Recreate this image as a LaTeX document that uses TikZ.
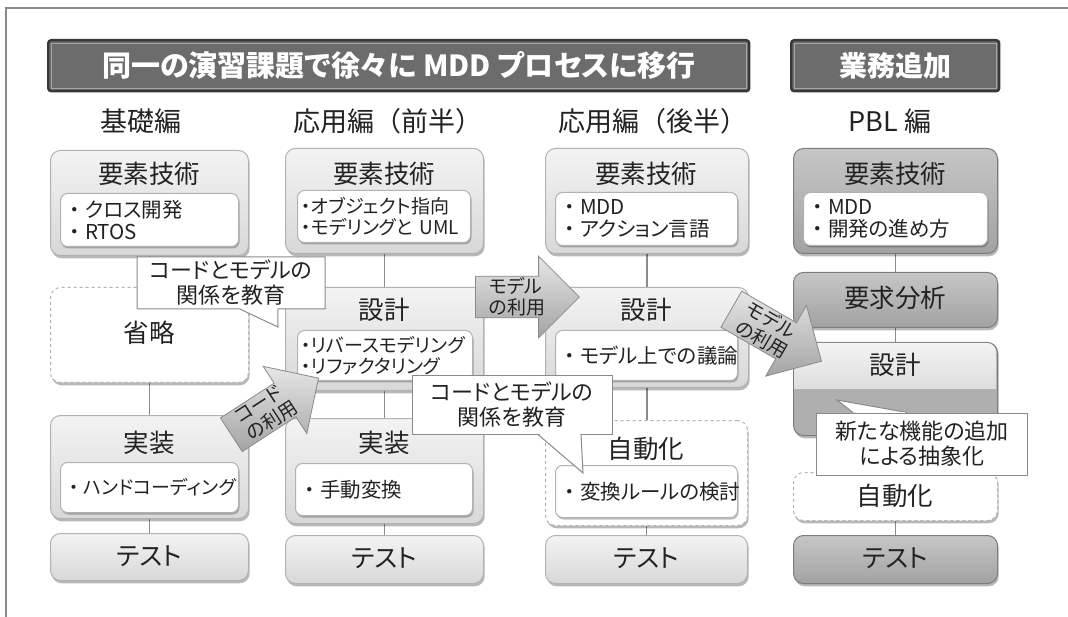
\documentclass[tikz,border=0pt]{standalone}
\usepackage{fontspec}
\setmainfont{Noto Sans CJK JP}[RawFeature=+palt]
\newfontfamily\plainjp{Noto Sans CJK JP}
\newcommand\bul{{\plainjp ・}}
\usetikzlibrary{shadows,shapes.arrows,shapes.callouts,backgrounds}
\definecolor{frm}{HTML}{8A8A8A}
\definecolor{lt}{HTML}{F3F3F3}
\definecolor{lb}{HTML}{D8D8D8}
\definecolor{ledge}{HTML}{B2B2B2}
\definecolor{dt}{HTML}{C6C6C6}
\definecolor{db}{HTML}{A2A2A2}
\definecolor{dedge}{HTML}{7C7C7C}
\definecolor{dfill}{HTML}{AFAFAF}
\definecolor{bnfill}{HTML}{6C6C6C}
\definecolor{bnedge}{HTML}{383838}
\definecolor{bninner}{HTML}{A6A6A6}
\definecolor{conn}{HTML}{8C8C8C}
\definecolor{txt}{HTML}{222222}
\definecolor{arT}{HTML}{E6E6E6}
\definecolor{arB}{HTML}{A4A4A4}
\tikzset{
  shd/.style={drop shadow={shadow xshift=1.2pt, shadow yshift=-2.8pt, opacity=0.28, fill=black}},
  lbox/.style={anchor=north west, draw=ledge, line width=1pt, rounded corners=10pt, top color=lt, bottom color=lb, inner sep=0pt, shd},
  kbox/.style={anchor=north west, draw=dedge, line width=1pt, rounded corners=10pt, top color=dt, bottom color=db, inner sep=0pt, shd},
  kflat/.style={anchor=north west, draw=dedge, line width=1pt, rounded corners=10pt, fill=dfill, inner sep=0pt, shd},
  dbox/.style={anchor=north west, draw=ledge, dashed, line width=1pt, rounded corners=10pt, fill=white, inner sep=0pt, shd},
  ibox/.style={anchor=north west, draw=ledge, line width=1pt, rounded corners=7pt, fill=white, inner xsep=4pt, inner ysep=0pt, align=left, text=txt, font=\fontsize{20.5}{22}\selectfont, drop shadow={shadow xshift=1pt, shadow yshift=-2pt, opacity=0.25, fill=black}},
  ttl/.style={text=txt, inner sep=0pt, font=\fontsize{25.5}{28}\selectfont},
  hdr/.style={text=txt, inner sep=0pt, font=\fontsize{27}{29}\selectfont},
  banner/.style={anchor=north west, draw=bnedge, line width=2.4pt, fill=bnfill, rounded corners=3pt, text=white, font=\bfseries\fontsize{29}{31}\selectfont, inner sep=0pt},
  conline/.style={draw=conn, line width=1.2pt},
  barrow/.style={single arrow, single arrow head extend=20pt, minimum height=104pt, draw=frm, line width=0.8pt, top color=arT, bottom color=arB, inner xsep=2pt, inner ysep=1pt, align=left, text=txt, font=\fontsize{19}{21}\selectfont},
  cout/.style={rectangle callout, draw=frm, line width=1pt, fill=white, align=center, inner sep=0pt, text=txt, font=\fontsize{22}{25}\selectfont, callout pointer width=38pt},
  cbox/.style={rectangle, draw=frm, line width=1pt, fill=white, align=center, inner sep=0pt, text=txt, font=\fontsize{22}{25}\selectfont},
  cptr/.style={draw=frm, fill=white, line width=1pt, line join=miter}
}
\begin{document}
\begin{tikzpicture}[x=1pt,y=-1pt]
\useasboundingbox (0,0) rectangle (1068,617);
\draw[frm, line width=1.4pt] (1068,8) -- (6,8) -- (6,617);

% banners
\node[banner, minimum width=701pt, minimum height=51pt] (ban1) at (47,39) {同一の演習課題で徐々に MDD プロセスに移行};
\draw[bninner, line width=0.8pt] ([shift={(4,-4)}]ban1.south west) rectangle ([shift={(-4,4)}]ban1.north east);
\node[banner, minimum width=208pt, minimum height=51pt, font=\bfseries\fontsize{28}{30}\selectfont] (ban2) at (790,39) {業務追加};
\draw[bninner, line width=0.8pt] ([shift={(4,-4)}]ban2.south west) rectangle ([shift={(-4,4)}]ban2.north east);

% headers
\node[hdr] (h1) at (141,121) {基礎編};
\node[hdr] (h2) at (388,121) {応用編{\plainjp （}前半{\plainjp ）}};
\node[hdr] (h3) at (653,121) {応用編{\plainjp （}後半{\plainjp ）}};
\node[hdr] (h4) at (890,121) {PBL 編};

% column 1
\node[lbox, minimum width=198pt, minimum height=105pt] (a1) at (50,150) {};
\node[ttl] (a1t) at (149,174) {要素技術};
\node[ibox, minimum width=178pt, minimum height=53pt, text width=170pt] (a1i) at (60,193) {\bul クロス開発\\\bul RTOS};
\node[dbox, minimum width=198pt, minimum height=95pt] (a2) at (50,287) {};
\node[ttl] (a2t) at (149,333) {省略};
\node[lbox, minimum width=198pt, minimum height=103pt] (a3) at (50,415) {};
\node[ttl] (a3t) at (149,443) {実装};
\node[ibox, minimum width=178pt, minimum height=50pt, text width=170pt, font=\fontsize{19}{21}\selectfont] (a3i) at (60,462) {\bul ハンドコーディング};
\node[lbox, minimum width=198pt, minimum height=47pt] (a4) at (50,533) {};
\node[ttl] (a4t) at (149,556) {テスト};

% column 2
\node[lbox, minimum width=198pt, minimum height=105pt] (b1) at (285,148) {};
\node[ttl] (b1t) at (384,174) {要素技術};
\node[ibox, minimum width=173pt, minimum height=52pt, text width=165pt, font=\fontsize{19}{21}\selectfont] (b1i) at (297,190) {・オブジェクト指向\\・モデリングと~UML};
\node[lbox, minimum width=198pt, minimum height=103pt] (b2) at (285,287) {};
\node[ttl] (b2t) at (384,310) {設計};
\node[ibox, minimum width=175pt, minimum height=50pt, text width=167pt, font=\fontsize{19}{21}\selectfont] (b2i) at (297,330) {・リバースモデリング\\・リファクタリング};
\node[lbox, minimum width=198pt, minimum height=105pt] (b3) at (285,418) {};
\node[ttl] (b3t) at (384,443) {実装};
\node[ibox, minimum width=177pt, minimum height=52pt, text width=169pt] (b3i) at (295,463) {\bul 手動変換};
\node[lbox, minimum width=198pt, minimum height=48pt] (b4) at (285,535) {};
\node[ttl] (b4t) at (384,558) {テスト};

% column 3
\node[lbox, minimum width=203pt, minimum height=105pt] (c1) at (545,148) {};
\node[ttl] (c1t) at (646,174) {要素技術};
\node[ibox, minimum width=182pt, minimum height=53pt, text width=174pt] (c1i) at (555,192) {\bul MDD\\\bul アクション言語};
\node[lbox, minimum width=203pt, minimum height=100pt] (c2) at (545,287) {};
\node[ttl] (c2t) at (646,310) {設計};
\node[ibox, minimum width=182pt, minimum height=50pt, text width=174pt] (c2i) at (555,330) {\bul モデル上での議論};
\node[dbox, minimum width=202pt, minimum height=105pt] (c3) at (545,420) {};
\node[ttl] (c3t) at (646,449) {自動化};
\node[ibox, minimum width=182pt, minimum height=52pt, text width=174pt] (c3i) at (555,465) {\bul 変換ルールの検討};
\node[lbox, minimum width=202pt, minimum height=48pt] (c4) at (545,535) {};
\node[ttl] (c4t) at (646,558) {テスト};

% column 4
\node[kbox, minimum width=204pt, minimum height=105pt] (d1) at (793,148) {};
\node[ttl] (d1t) at (895,174) {要素技術};
\node[ibox, minimum width=184pt, minimum height=53pt, text width=176pt] (d1i) at (803,192) {\bul MDD\\\bul 開発の進め方};
\node[kbox, minimum width=204pt, minimum height=55pt] (d2) at (793,272) {};
\node[ttl] (d2t) at (895,298) {要求分析};
\node[kflat, minimum width=204pt, minimum height=93pt] (d3) at (793,342) {};
\shade[top color=lt, bottom color=lb, rounded corners=9pt] (794,343) rectangle (996,400);
\fill[dfill] (794,389) rectangle (996,402);
\draw[ledge, line width=0.6pt] (794,389) -- (996,389);
\node[ttl] (d3t) at (895,365) {設計};
\node[dbox, minimum width=204pt, minimum height=48pt] (d4) at (793,472) {};
\node[ttl] (d4t) at (895,496) {自動化};
\node[kbox, minimum width=204pt, minimum height=48pt] (d5) at (793,535) {};
\node[ttl] (d5t) at (895,558) {テスト};

% connectors
\begin{scope}[on background layer]
\draw[conline] (a1.south) -- (a1.south |- a2.north);
\draw[conline] (a2.south) -- (a2.south |- a3.north);
\draw[conline] (a3.south) -- (a3.south |- a4.north);
\draw[conline] (b1.south) -- (b1.south |- b2.north);
\draw[conline] (b2.south) -- (b2.south |- b3.north);
\draw[conline] (b3.south) -- (b3.south |- b4.north);
\draw[conline] (c1.south) -- (c1.south |- c2.north);
\draw[conline] (c2.south) -- (c2.south |- c3.north);
\draw[conline] (c3.south) -- (c3.south |- c4.north);
\draw[conline] (d1.south) -- (d1.south |- d2.north);
\draw[conline] (d2.south) -- (d2.south |- d3.north);
\draw[conline] (d3.south) -- (d3.south |- d4.north);
\draw[conline] (d4.south) -- (d4.south |- d5.north);
\end{scope}

% block arrows
\node[barrow, rotate=33, anchor=tail] (ar1) at (231,435) {コード\\の利用};
\node[barrow, anchor=tail] (ar2) at (475,297) {モデル\\の利用};
\node[barrow, rotate=-30, anchor=tail] (ar3) at (731,309) {モデル\\の利用};

% callouts
\node[cout, minimum width=188pt, minimum height=52pt, callout absolute pointer={(278,327)}] (co1) at (231,283) {コードとモデルの\\関係を教育};

\coordinate (p2) at (583,473);
\node[cbox, minimum width=200pt, minimum height=58pt] (co2) at (512,405) {コードとモデルの\\関係を教育};
\filldraw[cptr] (co2.south -| 538,0) -- (p2) -- (co2.south -| 581,0);
\draw[white, line width=1.8pt] (co2.south -| 540,0) -- (co2.south -| 580,0);

\coordinate (p3) at (837,400);
\node[cbox, minimum width=211pt, minimum height=62pt] (co3) at (922,444) {新たな機能の追加\\による抽象化};
\filldraw[cptr] (co3.north -| 853,0) -- (p3) -- (co3.north -| 907,0);
\draw[white, line width=1.8pt] (co3.north -| 856,0) -- (co3.north -| 905,0);
\end{tikzpicture}
\end{document}
